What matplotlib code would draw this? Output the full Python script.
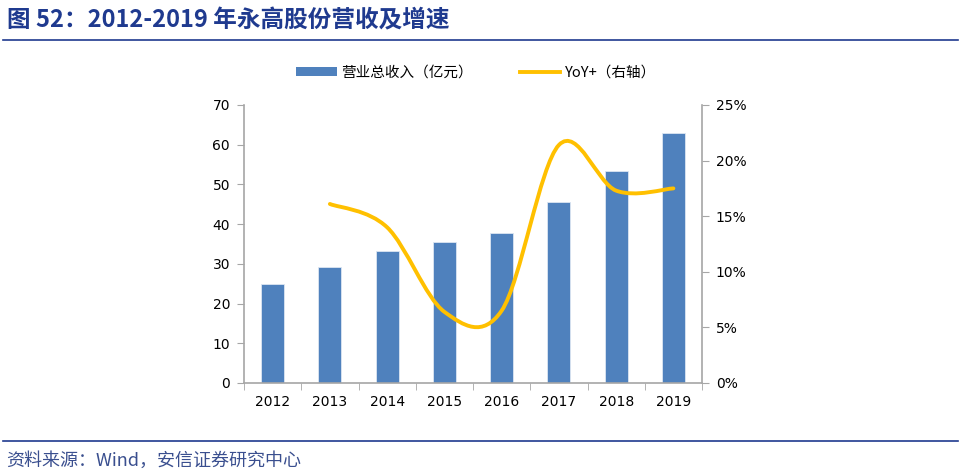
import matplotlib
matplotlib.use("Agg")
import matplotlib.pyplot as plt
import numpy as np
from matplotlib.path import Path
from matplotlib.patches import PathPatch
from matplotlib.lines import Line2D
from matplotlib.patches import Patch

plt.rcParams['font.family'] = ['Noto Sans CJK SC', 'DejaVu Sans']

years = ['2012', '2013', '2014', '2015', '2016', '2017', '2018', '2019']
revenue = [25.0, 29.2, 33.3, 35.4, 37.7, 45.7, 53.5, 62.9]
yoy_years = ['2013', '2014', '2015', '2016', '2017', '2018', '2019']
yoy = [16.1, 14.0, 6.4, 6.5, 21.4, 17.3, 17.5]
left_ticks = [0, 10, 20, 30, 40, 50, 60, 70]
right_ticks = [0, 5, 10, 15, 20, 25]

BAR = '#4F81BD'
LINE = '#FFC000'
AXC = '#A6A6A6'
TITLEC = '#1F3A8F'

fig = plt.figure(figsize=(9.65, 4.75), dpi=100)
ax = fig.add_axes([244/965, 1-383/475, (702-244)/965, (383-105)/475])
ax2 = ax.twinx()

x = np.arange(len(years))
ax.bar(x, revenue, width=0.4, color=BAR, edgecolor='#DCE6F2', linewidth=0.6, zorder=2)
ax.set_xlim(-0.5, len(years)-0.5)
ax.set_ylim(0, 70)
ax.set_yticks(left_ticks)
ax.set_yticklabels([str(v) for v in left_ticks], fontsize=10, family='DejaVu Sans')
ax.set_xticks(x)
ax.set_xticklabels(years, fontsize=10, family='DejaVu Sans')
ax.tick_params(axis='x', length=0, pad=9)
ax.set_xticks(np.arange(-0.5, len(years)), minor=True)
ax.tick_params(axis='x', which='minor', length=5, color=AXC, direction='out')
ax.tick_params(axis='y', length=5, color=AXC, direction='out', pad=5)
for s in ['top', 'right']:
    ax.spines[s].set_visible(False)
for s in ['left', 'bottom']:
    ax.spines[s].set_color(AXC)
    ax.spines[s].set_linewidth(1.2)

# smoothed line (Catmull-Rom style bezier through data points)
xi = np.array([years.index(y) for y in yoy_years], dtype=float)
yi = np.array(yoy, dtype=float)
verts = [(xi[0], yi[0])]
codes = [Path.MOVETO]
n = len(xi)
for i in range(n-1):
    p0 = np.array([xi[max(i-1, 0)], yi[max(i-1, 0)]])
    p1 = np.array([xi[i], yi[i]])
    p2 = np.array([xi[i+1], yi[i+1]])
    p3 = np.array([xi[min(i+2, n-1)], yi[min(i+2, n-1)]])
    c1 = p1 + (p2 - p0) / 6.0
    c2 = p2 - (p3 - p1) / 6.0
    verts += [tuple(c1), tuple(c2), tuple(p2)]
    codes += [Path.CURVE4]*3
ax2.add_patch(PathPatch(Path(verts, codes), facecolor='none', edgecolor=LINE,
                        linewidth=2.8, capstyle='round', joinstyle='round', zorder=3))
ax2.set_ylim(0, 25)
ax2.set_yticks(right_ticks)
ax2.set_yticklabels([f'{v}%' for v in right_ticks], fontsize=10, family='DejaVu Sans')
ax2.tick_params(axis='y', length=5, color=AXC, direction='out', pad=5)
for s in ['top', 'left', 'bottom']:
    ax2.spines[s].set_visible(False)
ax2.spines['right'].set_color(AXC)
ax2.spines['right'].set_linewidth(1.2)

handles = [Patch(facecolor=BAR, edgecolor='none'),
           Line2D([0], [0], color=LINE, linewidth=2.8)]
fig.legend(handles, ['营业总收入（亿元）', 'YoY+（右轴）'], loc='center',
           bbox_to_anchor=(476/965, 1-73/475), ncol=2, frameon=False,
           fontsize=10.5, handlelength=2.8, handleheight=0.6, columnspacing=3.2,
           handletextpad=0.3)

fig.text(7/965, 1-20/475, '图 52：2012-2019 年永高股份营收及增速', fontsize=17,
         fontweight='bold', color=TITLEC, va='center', ha='left')
fig.add_artist(Line2D([3/965, 958/965], [1-40/475, 1-40/475], color='#1F3A8F', linewidth=1.2))
fig.add_artist(Line2D([3/965, 958/965], [1-441/475, 1-441/475], color='#1F3A8F', linewidth=1.2))
fig.text(6/965, 1-461/475, '资料来源：Wind，安信证券研究中心', fontsize=13,
         style='italic', color='#3A4F8F', va='center', ha='left')

fig.savefig('out.png', dpi=100)
